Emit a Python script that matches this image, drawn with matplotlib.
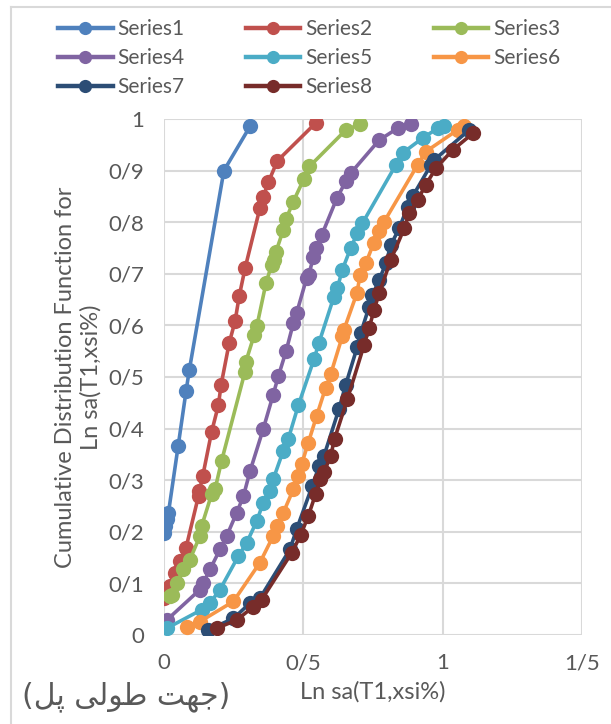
import matplotlib
matplotlib.use("Agg")
import matplotlib.pyplot as plt
from matplotlib.lines import Line2D
from matplotlib.ticker import FuncFormatter, MultipleLocator

plt.rcParams["font.family"] = ["Lato", "DejaVu Sans"]

# CDF points per series (x = Ln sa, y = cumulative probability)
s1_x = [0.0, 0.005, 0.010, 0.016, 0.051, 0.079, 0.091, 0.215, 0.309]
s1_y = [0.198, 0.211, 0.224, 0.237, 0.367, 0.472, 0.514, 0.900, 0.986]

s2_x = [0.0, 0.022, 0.039, 0.057, 0.079, 0.124, 0.127, 0.139, 0.171, 0.195,
        0.205, 0.234, 0.255, 0.270, 0.291, 0.344, 0.356, 0.374, 0.407, 0.544]
s2_y = [0.071, 0.094, 0.120, 0.143, 0.169, 0.270, 0.279, 0.308, 0.394, 0.445,
        0.485, 0.566, 0.608, 0.657, 0.711, 0.827, 0.848, 0.877, 0.919, 0.992]

s3_x = [0.022, 0.028, 0.045, 0.069, 0.093, 0.129, 0.135, 0.171, 0.183, 0.207,
        0.290, 0.294, 0.324, 0.333, 0.366, 0.386, 0.395, 0.402, 0.428, 0.438,
        0.464, 0.502, 0.522, 0.653, 0.704]
s3_y = [0.075, 0.078, 0.101, 0.127, 0.146, 0.192, 0.211, 0.273, 0.282, 0.338,
        0.509, 0.530, 0.582, 0.598, 0.682, 0.717, 0.727, 0.743, 0.785, 0.806,
        0.840, 0.884, 0.908, 0.979, 0.990]

s4_x = [0.004, 0.010, 0.129, 0.141, 0.165, 0.201, 0.225, 0.261, 0.285, 0.309,
        0.356, 0.392, 0.410, 0.438, 0.464, 0.476, 0.512, 0.520, 0.536, 0.546,
        0.566, 0.620, 0.652, 0.670, 0.772, 0.838, 0.886]
s4_y = [0.023, 0.029, 0.088, 0.101, 0.127, 0.166, 0.192, 0.237, 0.269, 0.318,
        0.399, 0.466, 0.501, 0.550, 0.604, 0.624, 0.692, 0.698, 0.733, 0.750,
        0.775, 0.846, 0.879, 0.895, 0.959, 0.982, 0.990]

s5_x = [0.010, 0.135, 0.165, 0.201, 0.267, 0.297, 0.333, 0.356, 0.380, 0.392,
        0.428, 0.446, 0.482, 0.538, 0.556, 0.610, 0.622, 0.640, 0.670, 0.694,
        0.712, 0.832, 0.856, 0.928, 0.982, 1.006]
s5_y = [0.013, 0.049, 0.062, 0.088, 0.153, 0.179, 0.221, 0.256, 0.279, 0.302,
        0.357, 0.380, 0.445, 0.534, 0.566, 0.656, 0.672, 0.708, 0.750, 0.779,
        0.798, 0.911, 0.934, 0.963, 0.982, 0.986]

s6_x = [0.081, 0.129, 0.249, 0.344, 0.392, 0.404, 0.428, 0.464, 0.482, 0.494,
        0.518, 0.548, 0.580, 0.598, 0.640, 0.646, 0.692, 0.704, 0.724, 0.752,
        0.772, 0.790, 0.910, 0.940, 1.054, 1.078]
s6_y = [0.016, 0.026, 0.065, 0.140, 0.192, 0.211, 0.237, 0.282, 0.308, 0.331,
        0.373, 0.425, 0.479, 0.505, 0.579, 0.592, 0.662, 0.698, 0.720, 0.759,
        0.782, 0.801, 0.911, 0.937, 0.979, 0.986]

s7_x = [0.159, 0.249, 0.309, 0.344, 0.452, 0.476, 0.532, 0.557, 0.574, 0.628,
        0.652, 0.694, 0.706, 0.736, 0.748, 0.772, 0.796, 0.814, 0.844, 0.874,
        0.892, 0.958, 0.970, 1.096]
s7_y = [0.010, 0.032, 0.062, 0.071, 0.166, 0.205, 0.289, 0.328, 0.347, 0.438,
        0.485, 0.559, 0.585, 0.636, 0.659, 0.688, 0.720, 0.756, 0.788, 0.830,
        0.850, 0.911, 0.921, 0.979]

s8_x = [0.189, 0.261, 0.321, 0.350, 0.458, 0.490, 0.518, 0.544, 0.560, 0.574,
        0.598, 0.612, 0.658, 0.718, 0.736, 0.754, 0.772, 0.814, 0.862, 0.880,
        0.910, 0.940, 0.976, 1.036, 1.108]
s8_y = [0.013, 0.029, 0.055, 0.068, 0.159, 0.193, 0.231, 0.273, 0.302, 0.315,
        0.347, 0.380, 0.457, 0.562, 0.595, 0.630, 0.662, 0.727, 0.788, 0.817,
        0.843, 0.873, 0.905, 0.940, 0.972]

series_names = ["Series1", "Series2", "Series3", "Series4",
                "Series5", "Series6", "Series7", "Series8"]
series_x = [s1_x, s2_x, s3_x, s4_x, s5_x, s6_x, s7_x, s8_x]
series_y = [s1_y, s2_y, s3_y, s4_y, s5_y, s6_y, s7_y, s8_y]
colors = ["#4F81BD", "#C0504D", "#9BBB59", "#8064A2",
          "#4BACC6", "#F79646", "#2C4D75", "#772C2A"]

text_color = "#595959"
grid_color = "#d9d9d9"

fig = plt.figure(figsize=(6.11, 7.24), dpi=100)
ax = fig.add_axes([164 / 611, 89 / 724, 418 / 611, 516 / 724])

for x, y, c, name in zip(series_x, series_y, colors, series_names):
    ax.plot(x, y, color=c, linewidth=2.6, marker="o", markersize=11,
            markeredgewidth=0, label=name, zorder=3)

ax.set_xlim(0, 1.5)
ax.set_ylim(0, 1)
ax.xaxis.set_major_locator(MultipleLocator(0.5))
ax.yaxis.set_major_locator(MultipleLocator(0.1))

# decimal separator shown as "/"
def slash_fmt(v, pos):
    s = f"{v:.1f}".rstrip("0").rstrip(".")
    return s.replace(".", "/")

ax.xaxis.set_major_formatter(FuncFormatter(slash_fmt))
ax.yaxis.set_major_formatter(FuncFormatter(slash_fmt))

ax.grid(True, color=grid_color, linewidth=1.5, zorder=0)
for side in ax.spines.values():
    side.set_visible(False)
ax.tick_params(length=0, labelsize=16, colors=text_color)
ax.tick_params(axis="y", pad=14)
ax.tick_params(axis="x", pad=13)

ax.set_xlabel("Ln sa(T1,xsi%)", fontsize=17, color=text_color, labelpad=6)
ax.set_ylabel("Cumulative Distribution Function for\nLn sa(T1,xsi%)",
              fontsize=17, color=text_color, linespacing=1.25,
              va="center", ha="center")
ax.yaxis.set_label_coords(-0.205, 0.5)

# Persian caption, written in visual order with presentation forms
caption = ("(\uFEDE\uFB58 \uFBFD\uFEDF\uFEEE\uFEC3 \uFE96\uFEEC\uFE9F)")
fig.text(22 / 611, 1 - 697 / 724, caption, fontsize=21.5, color=text_color,
         ha="left", va="center", family=["DejaVu Sans"])

# legend filled row by row: matplotlib fills columns, so reorder entries
order = [0, 3, 6, 1, 4, 7, 2, 5]
handles = [Line2D([], [], color=colors[i], linewidth=3.2, marker="o",
                  markersize=9.5, markeredgewidth=0) for i in order]
labels = [series_names[i] for i in order]
fig.legend(handles, labels, loc="upper left", ncol=3, frameon=False,
           bbox_to_anchor=(50 / 611, 1 - 11 / 724), fontsize=15,
           handlelength=2.6, handletextpad=0.25, columnspacing=2.95,
           labelspacing=0.42, labelcolor=text_color, borderaxespad=0)

# outer chart border
fig.add_artist(Line2D([11 / 611, 1], [1 - 7 / 724, 1 - 7 / 724],
                      color=grid_color, linewidth=1.5))
fig.add_artist(Line2D([11 / 611, 11 / 611], [0, 1 - 7 / 724],
                      color=grid_color, linewidth=1.5))

fig.savefig("out.png", dpi=100)
